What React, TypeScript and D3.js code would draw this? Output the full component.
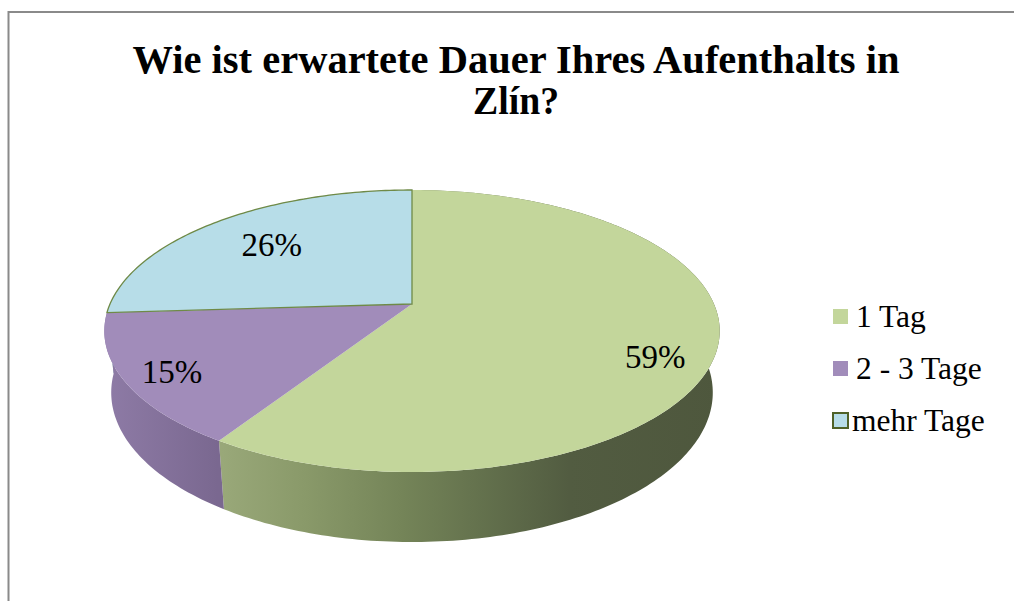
import React from "react";
import * as d3 from "d3";

const TITLE_LINES = ["Wie ist erwartete Dauer Ihres Aufenthalts in", "Zlín?"];
const CATEGORIES = ["1 Tag", "2 - 3 Tage", "mehr Tage"];
const VALUES = [59, 15, 26];
const PERCENT_LABELS = ["59%", "15%", "26%"];
const TOP_COLORS = ["#c3d69b", "#a18cba", "#b7dde8"];

// layout
const W = 1014, H = 601;
const CX = 412, CY = 304;
const F = 1408.5, D = 4.664, PHI = Math.asin(0.4498), HGT = 0.2294;
const S = Math.sin(PHI), C = Math.cos(PHI);
const LABEL_R = [0.8, 0.85, 0.7];
const LABEL_DY = [21, 4, 1];
const TITLE_W = [767, 86];
const FONT = "Liberation Serif";

function proj(t: number, r: number, z: number): [number, number] {
  const X = r * Math.sin(t);
  const Y = -r * Math.cos(t);
  const v = Y * S - z * C;
  const w = D - (Y * C + z * S);
  return [CX + (F * X) / w, CY + (F * v) / w];
}

function arcPts(a0: number, a1: number, z: number): [number, number][] {
  const n = Math.max(2, Math.ceil(((a1 - a0) * 180) / Math.PI));
  const pts: [number, number][] = [];
  for (let i = 0; i <= n; i++) pts.push(proj(a0 + ((a1 - a0) * i) / n, 1, z));
  return pts;
}

const line = d3.line<[number, number]>().x((d) => d[0]).y((d) => d[1]).curve(d3.curveLinearClosed);

export default function App() {
  const arcs = d3.pie<number>().sort(null).value((d) => d)(VALUES);
  const wallOrder = arcs
    .map((a, i) => ({ a, i, depth: -Math.cos((a.startAngle + a.endAngle) / 2) }))
    .sort((p, q) => p.depth - q.depth);

  return (
    <svg width={W} height={H} style={{ position: "absolute", left: 0, top: 0, background: "#fff" }}>
      <defs>
        <linearGradient id="wall0" gradientUnits="userSpaceOnUse" x1={216} x2={720} y1={0} y2={0}>
          <stop offset="0" stopColor="#9aa97a" />
          <stop offset="0.17" stopColor="#8a9a6a" />
          <stop offset="0.37" stopColor="#748458" />
          <stop offset="0.57" stopColor="#5f6c4a" />
          <stop offset="0.7" stopColor="#525c41" />
          <stop offset="1" stopColor="#4e573d" />
        </linearGradient>
        <linearGradient id="wall1" gradientUnits="userSpaceOnUse" x1={105} x2={218} y1={0} y2={0}>
          <stop offset="0" stopColor="#8e7ba6" />
          <stop offset="1" stopColor="#7a6890" />
        </linearGradient>
        <linearGradient id="wall2" gradientUnits="userSpaceOnUse" x1={105} x2={412} y1={0} y2={0}>
          <stop offset="0" stopColor="#8fb0ba" />
          <stop offset="1" stopColor="#8fb0ba" />
        </linearGradient>
      </defs>
      <rect x={8.5} y={12} width={W + 20} height={H + 20} fill="#fff" stroke="#8a8a8a" strokeWidth={2} />

      {TITLE_LINES.map((t, i) => (
        <text
          key={t}
          x={516}
          y={73 + i * 41}
          textAnchor="middle"
          fontFamily={FONT}
          fontWeight="bold"
          fontSize={39}
          textLength={TITLE_W[i]}
          lengthAdjust="spacingAndGlyphs"
        >
          {t}
        </text>
      ))}

      {wallOrder.map(({ a, i }) => {
        const top = arcPts(a.startAngle, a.endAngle, 0);
        const bot = arcPts(a.startAngle, a.endAngle, -HGT).reverse();
        return <path key={"w" + i} d={line([...top, ...bot]) || ""} fill={`url(#wall${i})`} />;
      })}

      {arcs.map((a, i) => {
        const pts = [proj(0, 0, 0), ...arcPts(a.startAngle, a.endAngle, 0)];
        return (
          <path
            key={"t" + i}
            d={line(pts) || ""}
            fill={TOP_COLORS[i]}
            stroke={i === 2 ? "#6f8a47" : "none"}
            strokeWidth={i === 2 ? 1.3 : 0}
          />
        );
      })}

      {arcs.map((a, i) => {
        const [x, y] = proj((a.startAngle + a.endAngle) / 2, LABEL_R[i], 0);
        return (
          <text key={"l" + i} x={x + 1} y={y + LABEL_DY[i] + 11} textAnchor="middle" fontFamily={FONT} fontSize={33}>
            {PERCENT_LABELS[i]}
          </text>
        );
      })}

      {CATEGORIES.map((c, i) => {
        const cy = 317 + i * 52;
        return (
          <g key={c}>
            <rect
              x={833}
              y={cy - 8}
              width={15}
              height={15}
              fill={TOP_COLORS[i]}
              stroke={i === 2 ? "#4f6228" : "none"}
              strokeWidth={i === 2 ? 2 : 0}
            />
            <text x={i === 2 ? 852 : 856} y={cy + 10} fontFamily={FONT} fontSize={31.5}>
              {c}
            </text>
          </g>
        );
      })}
    </svg>
  );
}
